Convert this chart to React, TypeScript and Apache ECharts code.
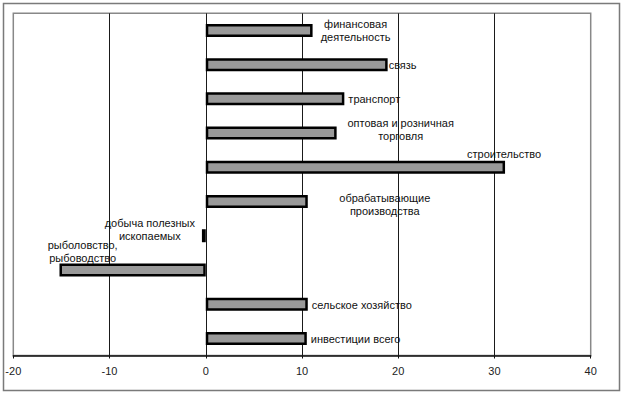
import React, { useEffect, useRef } from "react";
import * as echarts from "echarts";

const categories = [
  "финансовая\nдеятельность",
  "связь",
  "транспорт",
  "оптовая и розничная\nторговля",
  "строительство",
  "обрабатывающие\nпроизводства",
  "добыча полезных\nископаемых",
  "рыболовство,\nрыбоводство",
  "сельское хозяйство",
  "инвестиции всего",
];

const values = [11.1, 18.9, 14.4, 13.6, 31.1, 10.6, -0.4, -15.2, 10.6, 10.5];

const xTicks = { min: -20, max: 40, interval: 10 };

// label placement styles per bar (not data)
const labelStyles: any[] = [
  { position: "right", distance: 0, align: "center", offset: [43, 0] },
  { position: "right", distance: 1 },
  { position: "right", distance: 4 },
  { position: "right", distance: 0, align: "center", offset: [64, -4] },
  { position: "right", distance: 0, align: "center", offset: [-1, -13] },
  { position: "right", distance: 0, align: "center", offset: [77, 3] },
  { position: "inside", align: "center", offset: [-54, -6] },
  { position: "inside", align: "center", offset: [-50, -18] },
  { position: "right", distance: 4, offset: [0, 1] },
  { position: "right", distance: 4, offset: [0, 1] },
];

const FONT = "'Liberation Sans', Arial, sans-serif";

export default function App() {
  const ref = useRef<HTMLDivElement>(null);
  useEffect(() => {
    if (!ref.current) return;
    const chart = echarts.init(ref.current, undefined, { renderer: "svg" });
    chart.setOption({
      animation: false,
      backgroundColor: "#ffffff",
      textStyle: { fontFamily: FONT },
      graphic: [
        {
          type: "rect",
          shape: { x: 3.5, y: 3.5, width: 616, height: 387 },
          style: { fill: "none", stroke: "#7a7a7a", lineWidth: 1.5 },
          silent: true,
        },
      ],
      grid: {
        left: 13.3,
        right: 32.3,
        top: 13.3,
        bottom: 38.5,
        show: true,
        borderColor: "#888888",
        borderWidth: 1.5,
        backgroundColor: "transparent",
      },
      xAxis: {
        type: "value",
        min: xTicks.min,
        max: xTicks.max,
        interval: xTicks.interval,
        axisLine: { show: true, onZero: false, lineStyle: { color: "#111", width: 1.5 } },
        axisTick: { show: true, length: 3, lineStyle: { color: "#111" } },
        axisLabel: { color: "#222", fontSize: 11, margin: 10, fontFamily: FONT },
        splitLine: {
          show: true,
          showMinLine: false,
          showMaxLine: false,
          lineStyle: { color: "#1a1a1a", width: 1 },
        },
      },
      yAxis: {
        type: "category",
        inverse: true,
        data: categories,
        axisLine: { show: false },
        axisTick: { show: false },
        axisLabel: { show: false },
        splitLine: { show: false },
      },
      series: [
        {
          type: "bar",
          barWidth: 13,
          itemStyle: { color: "#999999", borderColor: "#000", borderWidth: 2.5 },
          label: {
            show: true,
            color: "#111",
            fontSize: 11,
            lineHeight: 13,
            fontFamily: FONT,
            formatter: (p: any) => categories[p.dataIndex],
          },
          data: values.map((v, i) => ({ value: v, label: labelStyles[i] })),
        },
      ],
    });
    return () => chart.dispose();
  }, []);
  return (
    <div
      ref={ref}
      style={{ position: "fixed", left: 0, top: 0, width: 623, height: 394 }}
    />
  );
}
